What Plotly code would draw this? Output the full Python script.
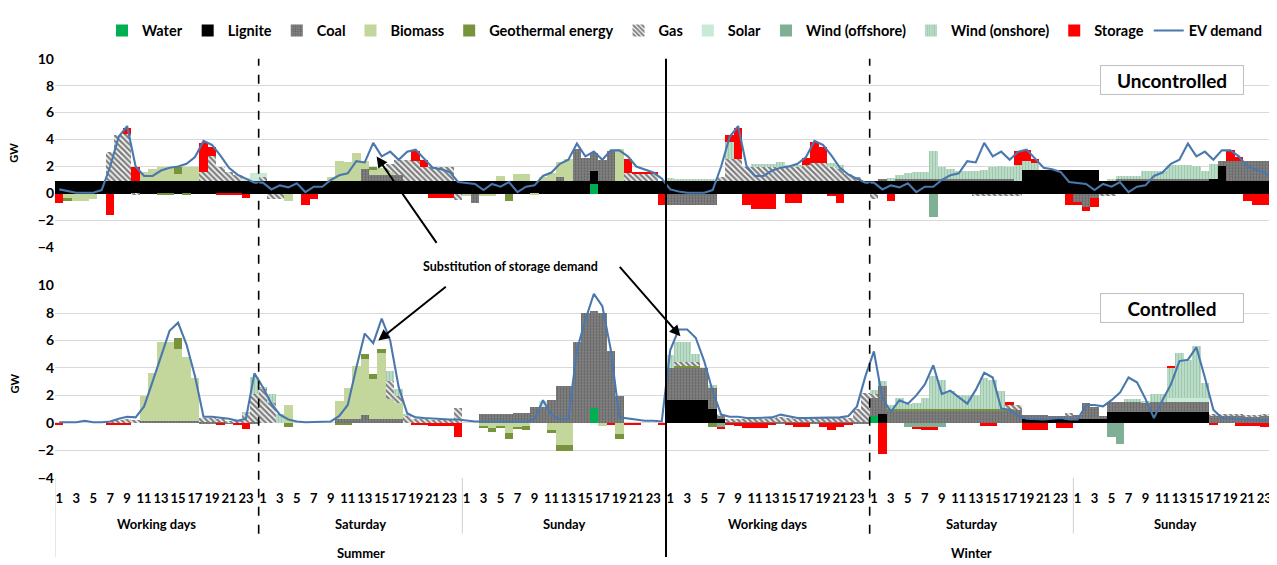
import plotly.graph_objects as go

# hourly values, six blocks of 24 h:
# summer working day, summer saturday, summer sunday, winter working day, winter saturday, winter sunday
EMPTY = [0] * 24
DAY_NAMES = ["Working days", "Saturday", "Sunday", "Working days", "Saturday", "Sunday"]
SEASONS = ["Summer", "Winter"]
HOUR_TICKS = [1, 3, 5, 7, 9, 11, 13, 15, 17, 19, 21, 23]


def week(*days):
    return [v for d in days for v in d]


# ---------------- uncontrolled charging (upper panel) ----------------
u_water = week(EMPTY, EMPTY,
               [0, 0, 0, 0, 0, 0, 0, 0, 0, 0, 0, 0, 0, 0, 0, 0.75, 0, 0, 0, 0, 0, 0, 0, 0],
               EMPTY, EMPTY, EMPTY)
u_lignite = week(
    [0.95, 0.95, 0.95, 0.95, 0.95, 0.95, 0.95, 0.95, 0.95, 0.95, 0.95, 0.95, 0.95, 0.95, 0.95, 0.95, 0.95, 0.95, 0.95, 0.95, 0.95, 0.95, 0.95, 0.95],
    [0.95, 0.95, 0.95, 0.95, 0.95, 0.95, 0.95, 0.95, 0.95, 0.95, 0.95, 0.95, 0.95, 0.95, 0.95, 0.95, 0.95, 0.95, 0.95, 0.95, 0.95, 0.95, 0.95, 0.95],
    [0.95, 0.95, 0.95, 0.95, 0.95, 0.95, 0.95, 0.95, 0.95, 0.95, 0.95, 0.95, 0.95, 0.95, 0.95, 0.95, 0.95, 0.95, 0.95, 0.95, 0.95, 0.95, 0.95, 0.95],
    [0.95, 0.95, 0.95, 0.95, 0.95, 0.95, 0.95, 0.95, 0.95, 0.95, 0.95, 0.95, 0.95, 0.95, 0.95, 0.95, 0.95, 0.95, 0.95, 0.95, 0.95, 0.95, 0.95, 0.95],
    [0.95, 0.95, 0.95, 0.95, 0.95, 0.95, 0.95, 0.95, 0.95, 0.95, 0.95, 0.95, 0.95, 0.95, 0.95, 0.95, 0.95, 0.95, 1.8, 1.8, 1.8, 1.8, 1.8, 1.8],
    [1.8, 1.8, 1.8, 0.95, 0.95, 0.95, 0.95, 0.95, 0.95, 0.95, 0.95, 0.95, 0.95, 0.95, 0.95, 0.95, 1.1, 2.05, 0.95, 0.95, 0.95, 0.95, 0.95, 0.95])
u_coal = week(
    EMPTY,
    [0, 0, 0, 0, 0, 0, 0, 0, 0, 0, 0, 0, 0.9, 0.45, 0.45, 0.45, 0.45, 0, 0, 0, 0, 0, 0, 0],
    [0, -0.65, 0, 0, 0, 0, 0, 0, 0, 0, 0, 0.3, 0, 2.4, 1.7, 1.3, 1.55, 2.25, 0, 0, 0, 0, 0, 0],
    [-0.85, -0.85, -0.85, -0.85, -0.85, -0.85, 0, 0, 0, 0, 0, 0, 0, 0, 0, 0, 0, 0, 0, 0, 0, 0, 0, 0],
    [0, 0.15, 0, 0.15, 0.15, 0.15, 0.15, 0.15, 0.15, 0.15, 0.15, 0.15, 0.15, 0.15, 0.15, 0.15, 0.15, 0, 0, 0, 0, 0, 0, 0],
    [-0.6, -1.0, -0.3, 0, 0, 0.15, 0.15, 0.15, 0.15, 0.15, 0.15, 0.15, 0.15, 0.15, 0.15, 0.15, 0, 0.35, 1.45, 1.45, 1.45, 1.45, 1.45, 1.45])
u_biomass = week(
    [0, -0.3, -0.5, -0.5, -0.4, 0, 0, 0, 0, 0, 0.7, 0.9, 1.05, 1.05, 0.5, 1.0, 1.0, 0, 0, 0, 0, 0, 0, 0],
    [0, 0, 0, -0.5, 0, 0, 0, 0, 0.3, 1.45, 1.4, 2.1, 0.6, 0.4, 0.5, 0.2, 0, 0, 0, 0, 0, 0, 0, 0],
    [-0.2, 0, -0.2, -0.2, 0.4, 0, 0.5, 0.5, -0.1, 0.3, 0.6, 1.1, 1.65, 0, 0, 0, 0, 0, 2.35, 0, 0, 0, 0, 0],
    EMPTY, EMPTY, EMPTY)
u_geo = week(
    [0, -0.2, 0, 0, 0, 0, 0, 0, 0, 0, 0, 0, -0.1, -0.1, 0.55, -0.1, 0, 0, 0, 0, 0, 0, 0, 0],
    [0, 0, 0, 0, 0, 0, 0, 0, 0, 0, 0, 0, 0, 0.2, 0, 0, 0, 0, 0, 0, 0, 0, 0, 0],
    [0, 0, 0, 0, 0, -0.5, 0, 0, 0, 0, 0, 0, 0, 0, 0, 0, 0, 0, 0, 0, 0, 0, 0, 0],
    EMPTY, EMPTY, EMPTY)
u_gas = week(
    [0, 0, 0, 0, 0, 0, 2.15, 3.4, 3.45, -0.1, 0, 0, 0, 0, 0, 0, 0, 0.65, 1.85, 1.05, 0.65, 0.45, 0, 0],
    [0.3, -0.4, -0.4, 0, 0, 0, 0, 0, 0, 0, 0, 0, 0, 0, 0, 0.6, 1.1, 1.55, 1.45, 1.05, 1.05, 1.05, 1.05, -0.45],
    [0, 0, 0, 0, 0, 0, 0, 0, 0, 0, 0, 0, 0, 0, 0, 0, 0, 0, 0, 0.6, 0.5, 0.5, 0.5, 0],
    [0, 0, 0, 0, 0, 0, 0.3, 1.65, 1.65, 1.05, 1.05, 1.05, 1.05, 1.05, 1.05, 1.05, 1.2, 1.35, 1.35, 1.05, 0.9, 0.5, 0.3, 0],
    [-0.4, 0, 0, 0, 0, 0, 0, 0, 0, 0, 0, 0, -0.15, -0.15, -0.15, -0.15, -0.15, -0.15, 0, 0, 0, 0, 0, 0],
    [0, 0, 0, -0.2, -0.2, 0, 0, 0, 0, 0, 0, 0, 0, 0, 0, 0, 0, 0, 0, 0, 0, 0, 0, 0])
u_solar = week(
    [0, 0, 0, 0, 0, 0, 0, 0, 0, 0, 0, 0, 0, 0, 0, 0, 0, 0, 0, 0, 0, 0, 0.2, 0.6],
    [0.3, 0, 0, 0, 0, 0, 0, 0, 0, 0, 0, 0, 0, 0, 0, 0, 0, 0, 0, 0, 0, 0, 0, 0],
    EMPTY, EMPTY, EMPTY, EMPTY)
u_wind_off = week(
    EMPTY, EMPTY, EMPTY, EMPTY,
    [0, 0, 0, 0, 0, 0, 0, -1.7, 0, 0, 0, 0, 0, 0, 0, 0, 0, 0, 0, 0, 0, 0, 0, 0],
    EMPTY)
u_wind_on = week(
    EMPTY, EMPTY, EMPTY,
    [0.25, 0.15, 0.1, 0.1, 0.1, 0.1, 0, 1.25, 0, 0, 0.2, 0.2, 0.2, 0.35, 0.15, 0.15, 0, 0, 0, 0.25, 0.25, 0, 0, 0],
    [0, 0, 0.2, 0.3, 0.45, 0.55, 0.55, 2.05, 0.85, 0.75, 0.6, 0.6, 0.6, 0.7, 0.9, 0.95, 0.85, 1.2, 0.6, 0.5, 0, 0, 0, 0],
    [0, 0, 0, 0, 0.15, 0.25, 0.25, 0.25, 0.6, 0.6, 0.6, 1.0, 1.0, 1.0, 0.95, 0.6, 1.1, 0, 0, 0, 0, 0, 0, 0])
u_storage = week(
    [-0.7, 0, 0, 0, 0, 0, -1.6, 0, 0.5, 1.05, 0, 0, 0, 0, 0, 0, 0, 2.15, 0.65, -0.1, -0.1, -0.1, -0.3, 0],
    [0, 0, 0, 0, 0, -0.8, -0.4, 0, 0, 0, 0, 0, 0, 0, 0, 0, 0, 0, 0.75, 0.5, -0.3, -0.3, -0.3, 0],
    [0, 0, 0, 0, 0, 0, 0, 0, 0, 0, 0, 0, 0, 0, 0, 0, 0, 0, 0, 1.05, 0.2, 0.2, 0.15, -0.8],
    [0, 0, 0, 0, 0, 0, 0, 0.5, 2.3, -0.85, -1.15, -1.15, -1.15, 0, -0.65, -0.65, 0.5, 1.55, 1.2, -0.2, -0.65, 0, 0, 0],
    [0, 0, -0.5, 0, 0, 0, 0, 0, 0, 0, 0, 0, 0, 0, 0, 0, 0, 1.05, 0.85, 0.3, 0, 0, 0, -0.8],
    [-0.2, -0.3, -0.7, 0, 0, 0, 0, 0, 0, 0, 0, 0, 0, 0, 0, 0, 0, 0, 0.85, 0.3, -0.5, -0.85, -0.85, -1.9])
ev_unc_wd = [0.3, 0.15, 0.05, 0.05, 0.05, 0.25, 2.0, 4.2, 5.0, 2.0, 1.3, 1.3, 1.7, 1.9, 2.0, 2.2, 2.7, 3.9, 3.6, 2.8, 1.9, 1.4, 1.1, 0.8]
ev_unc_sat = [0.8, 0.3, 0.6, 0.45, 0.75, 0.1, 0.5, 0.5, 1.0, 1.35, 1.5, 2.4, 2.3, 3.75, 2.75, 3.1, 2.5, 3.1, 3.25, 2.6, 1.9, 1.8, 1.6, 0.85]
ev_unc_sun = [0.75, 0.7, 0.25, 0.7, 0.5, 0.85, 0.1, 0.5, 0.6, 1.3, 1.55, 2.2, 2.5, 3.7, 2.75, 3.1, 2.5, 3.2, 3.2, 2.75, 2.0, 1.8, 1.55, 1.1]
u_ev = week(ev_unc_wd, ev_unc_sat, ev_unc_sun, ev_unc_wd, ev_unc_sat, ev_unc_sun)

# ---------------- controlled charging (lower panel) ----------------
c_water = week(
    EMPTY, EMPTY,
    [0, 0, 0, 0, 0, 0, 0, 0, 0, 0, 0, 0, 0, 0, 0, 1.1, 0, 0, 0, 0, 0, 0, 0, 0],
    EMPTY,
    [0.55, 0, 0, 0, 0, 0, 0, 0, 0, 0, 0, 0, 0, 0, 0, 0, 0, 0, 0, 0, 0, 0, 0, 0],
    EMPTY)
c_lignite = week(
    EMPTY, EMPTY, EMPTY,
    [1.7, 1.7, 1.7, 1.7, 1.7, 1.05, 0.3, 0, 0, 0, 0, 0, 0, 0, 0, 0, 0, 0, 0, 0, 0, 0, 0, 0],
    [0, 0.7, 0, 0, 0, 0, 0, 0, 0, 0, 0, 0, 0, 0, 0, 0, 0, 0, 0.35, 0.35, 0.35, 0.35, 0.35, 0.35],
    [0.35, 0.35, 0.35, 0.35, 0.8, 0.8, 0.8, 0.8, 0.8, 0.8, 0.8, 0.8, 0.8, 0.8, 0.8, 0.8, 0, 0, 0, 0, 0, 0, 0, 0])
c_coal = week(
    [0, 0, 0, 0, 0, 0, 0, 0, 0, 0, 0.2, 0.2, 0.2, 0.2, 0.2, 0.2, 0.2, 0.1, 0.1, 0.1, 0.05, 0.05, 0.05, 0.1],
    [0, 0, 0, 0, 0, 0, 0, 0, 0, 0.3, 0.3, 0.3, 0.6, 0.3, 0.3, 0.3, 0.3, 0, 0, 0, 0, 0, 0, 0],
    [0, 0, 0.7, 0.7, 0.7, 0.7, 0.75, 0.75, 1.2, 1.2, 1.7, 2.75, 2.75, 5.9, 8.0, 7.1, 8.0, 5.3, 2.0, 0, 0, 0, 0, 0],
    [2.3, 2.3, 2.3, 2.3, 2.3, 1.55, 0.2, 0.1, 0.1, 0.1, 0.1, 0.1, 0.1, 0.1, 0.1, 0.1, 0.1, 0.1, 0.1, 0.1, 0.1, 0.1, 0.1, 0.1],
    [1.3, 2.0, 0.95, 0.95, 0.95, 0.95, 0.95, 0.95, 0.95, 0.95, 0.95, 0.95, 0.95, 0.95, 0.95, 0.95, 0.95, 0.95, 0.25, 0.25, 0.25, 0.2, 0.2, 0.2],
    [0.25, 1.1, 0.85, 0.2, 0.75, 0.75, 0.75, 0.75, 0.75, 0.75, 0.75, 0.75, 0.75, 0.75, 0.75, 0.75, 0.6, 0.6, 0.6, 0.6, 0.5, 0.5, 0.5, 0.5])
c_biomass = week(
    [0, 0, 0, 0, 0, 0, 0, 0, 0, 0, 1.8, 3.5, 5.7, 5.7, 5.2, 4.6, 3.1, 0, 0, 0, 0, 0, 0, 0],
    [0, 0, 0, 1.3, 0, 0, 0, 0, 0, 1.35, 2.3, 3.9, 4.1, 2.95, 4.8, 1.5, 1.2, 0, 0, 0, 0, 0, 0, 0],
    [0, 0, -0.25, -0.35, -0.2, -0.7, -0.3, -0.2, 0, 0, -0.5, -1.6, -1.6, 0, 0, 0, -0.2, 0, -0.8, 0, 0, 0, 0, 0],
    EMPTY, EMPTY, EMPTY)
c_geo = week(
    [0, 0, 0, 0, 0, 0, 0, 0, 0, 0, 0, 0, 0, 0, 0.8, 0, 0, 0, 0, 0, 0, 0, 0, 0],
    [0, 0, 0, -0.25, 0, 0, 0, 0, 0, -0.15, -0.15, 0, 0.35, 0.35, 0.3, 0, 0, 0, 0, 0, 0, 0, 0, 0],
    [0, 0, -0.1, -0.25, -0.15, -0.45, -0.1, -0.3, 0, 0, -0.2, -0.4, -0.4, 0, 0, 0, 0, 0, -0.35, 0, 0, 0, 0, 0],
    [0, 0.2, 0.2, 0.2, 0, -0.3, 0, 0, 0, 0, 0, 0, 0, 0, 0, 0, 0, 0, 0, 0, 0, 0, 0, 0],
    [0, 0, 0.08, 0.08, 0.08, 0.08, 0.08, 0.08, 0.08, 0.08, 0.08, 0.08, 0.08, 0.08, 0.08, 0.08, 0.08, 0, 0, 0, 0, 0, 0, 0],
    EMPTY)
c_gas = week(
    [0, 0, 0, 0, 0, 0, 0.15, 0.25, 0.3, 0.25, 0, 0, 0, 0, 0, 0, 0, 0.3, 0.3, 0.25, 0.15, 0.1, 0.6, 2.0],
    [2.5, 1.5, 0, 0, 0, 0, 0, 0, 0, 0, 0, 0, 0, 0, 0, 1.3, 0.5, 0.6, 0.3, 0.3, 0.25, 0.25, 0.25, 1.1],
    EMPTY,
    [0, 0.25, 0.25, 0.25, 0, 0, 0.2, 0.2, 0.25, 0.25, 0.2, 0.25, 0.3, 0.35, 0.3, 0.25, 0.25, 0.3, 0.3, 0.3, 0.3, 0.3, 0.95, 2.1],
    [0.3, 0, 0, 0, 0, 0, 0, 0, 0, 0, 0, 0, 0, 0, 0, 0, 0.3, 0.35, 0, 0, 0, 0, 0, 0.2],
    [0, 0, 0, 0, 0, 0, 0, 0, 0, 0, 0, 0, 0, 0, 0, 0, 0.1, 0.1, 0.1, 0.1, 0.1, 0.1, 0.2, 0.2])
c_solar = week(
    EMPTY, EMPTY,
    [0, 0, 0, 0, 0, 0, 0, 0, 0, 0.4, 0, 0, 0, 0, 0, 0, 0, 0, 0, 0, 0, 0, 0, 0],
    EMPTY, EMPTY,
    [0, 0, 0, 0, 0, 0, 0, 0, 0, 0, 0, 0.3, 0.3, 0.3, 0.3, 0.3, 0, 0, 0, 0, 0, 0, 0, 0])
c_wind_off = week(
    EMPTY, EMPTY, EMPTY,
    [0, 0, 0, 0, 0, 0, -0.3, 0, 0, 0, 0, 0, 0, 0, 0, 0, 0, 0, 0, 0, 0, 0, 0, 0],
    [0, 0, 0, 0, -0.3, -0.3, -0.3, -0.3, -0.3, 0, 0, 0, 0, 0, 0, 0, 0, 0, 0, 0, 0, 0, 0, 0],
    [0, 0, 0, 0, -1.0, -1.5, 0, 0, 0, 0, 0, 0, 0, 0, 0, 0, 0, 0, 0, 0, 0, 0, 0, 0])
c_wind_on = week(
    [0, 0, 0, 0, 0, 0, 0, 0, 0, 0, 0, 0, 0, 0, 0, 0, 0, 0, 0, 0, 0, 0, 0.2, 1.3],
    [0.1, 0.6, 0.7, 0, 0, 0, 0, 0, 0, 0, 0, 0, 0, 0, 0, 0.7, 0.5, 0.1, 0, 0, 0, 0, 0, 0],
    EMPTY,
    [1.0, 1.45, 1.45, 0.6, 0, 0.2, 0, 0, 0, 0, 0, 0, 0, 0, 0, 0, 0, 0, 0, 0, 0, 0, 0, 0],
    [0.3, 0.35, 0.3, 0.85, 0.35, 0.45, 0.85, 2.45, 2.15, 1.3, 1.05, 1.05, 1.05, 2.25, 2.15, 1.3, 0, 0, 0, 0, 0, 0, 0, 0],
    [0, 0, 0, 0, 0, 0, 0.2, 0.2, 0.1, 0.6, 0.6, 2.2, 3.3, 2.75, 3.75, 1.1, 0, 0, 0, 0, 0, 0, 0, 0])
c_storage = week(
    [-0.1, 0, 0, 0, 0, 0, -0.1, -0.1, -0.1, 0, 0, 0, 0, 0, 0, 0, 0, 0, 0, -0.1, 0, -0.15, -0.4, 0],
    [0, 0, 0, 0, 0, 0, 0, 0, 0, 0, 0, 0, 0, 0, 0, 0, 0, 0, -0.15, -0.15, -0.2, -0.2, -0.2, -1.0],
    [0, 0, 0, 0, 0, 0, 0, 0, 0, 0, 0, 0, 0, 0, 0, 0, 0, -0.1, 0, -0.15, -0.1, 0, 0, -0.1],
    [0, 0, 0, 0, 0, 0, -0.05, -0.1, -0.2, -0.35, -0.35, -0.35, -0.1, 0, -0.1, -0.25, -0.25, 0, -0.3, -0.45, -0.3, -0.1, 0, 0],
    [0, -2.25, 0, 0, 0, -0.1, -0.15, -0.15, 0, 0, 0, 0, 0, -0.2, -0.2, 0, 0.2, 0, -0.45, -0.45, -0.45, 0, -0.35, -0.35],
    [0, 0, 0, 0, 0, 0, 0, 0, 0, 0, 0, 0.1, 0, 0, 0, 0, -0.1, 0, 0, -0.2, -0.2, -0.2, -0.3, -0.5])
c_ev = week(
    [0.05, 0.05, 0.05, 0.15, 0.05, 0.05, 0.1, 0.3, 0.45, 0.4, 1.2, 3.0, 4.8, 6.7, 7.3, 5.7, 3.4, 0.45, 0.45, 0.4, 0.3, 0.15, 0.3, 3.6],
    [2.6, 1.4, 0.6, 0.25, 0.1, 0.05, 0.05, 0.05, 0.1, 0.5, 1.3, 4.0, 6.5, 5.8, 7.6, 6.0, 2.6, 0.7, 0.4, 0.35, 0.3, 0.25, 0.25, 0.25],
    [0.15, 0.1, 0.1, 0.1, 0.1, 0.1, 0.1, 0.1, 0.25, 1.65, 0.6, 0.25, 0.3, 5.3, 7.5, 9.4, 8.5, 5.3, 0.4, 0.3, 0.2, 0.15, 0.15, 0.1],
    [5.3, 6.8, 6.8, 6.2, 4.5, 2.3, 0.6, 0.45, 0.45, 0.35, 0.35, 0.35, 0.4, 0.6, 0.45, 0.35, 0.35, 0.35, 0.4, 0.4, 0.4, 0.5, 1.2, 3.4],
    [5.2, 1.8, 0.8, 1.65, 1.4, 2.0, 2.8, 4.2, 2.1, 2.35, 1.9, 1.4, 2.4, 3.65, 3.3, 1.05, 0.95, 0.5, 0.3, 0.25, 0.25, 0.3, 0.35, 0.25],
    [0.25, 1.3, 1.3, 1.2, 1.65, 2.2, 3.3, 2.95, 1.75, 0.35, 1.65, 2.8, 4.5, 4.6, 5.5, 3.3, 0.95, 0.35, 0.3, 0.25, 0.25, 0.2, 0.2, 0.15])

x = list(range(144))

series = [
    ("Water", u_water, c_water, dict(color="#00B050")),
    ("Lignite", u_lignite, c_lignite, dict(color="#000000")),
    ("Coal", u_coal, c_coal, dict(color="#7A7A7A", pattern=dict(shape=".", fgcolor="#454545", bgcolor="#858585", size=3, solidity=0.45))),
    ("Biomass", u_biomass, c_biomass, dict(color="#C3D69B")),
    ("Geothermal energy", u_geo, c_geo, dict(color="#77933C")),
    ("Gas", u_gas, c_gas, dict(color="#FFFFFF", pattern=dict(shape="\\", fgcolor="#000000", bgcolor="#FFFFFF", size=4, solidity=0.62))),
    ("Solar", u_solar, c_solar, dict(color="#C9EAD6")),
    ("Wind (offshore)", u_wind_off, c_wind_off, dict(color="#7FAF94")),
    ("Wind (onshore)", u_wind_on, c_wind_on, dict(color="#A9D3B9", pattern=dict(shape="|", fgcolor="#78B08F", bgcolor="#C4E2CF", size=3, solidity=0.5))),
    ("Storage", u_storage, c_storage, dict(color="#FF0000")),
]

fig = go.Figure()
for panel, (xa, ya) in enumerate([("x", "y"), ("x2", "y2")]):
    for name, up, low, mk in series:
        fig.add_trace(go.Bar(
            x=x, y=up if panel == 0 else low, name=name, width=1,
            marker=dict(line=dict(width=0), **mk),
            xaxis=xa, yaxis=ya, legendgroup=name, showlegend=(panel == 0)))
    fig.add_trace(go.Scatter(
        x=x, y=u_ev if panel == 0 else c_ev, name="EV demand", mode="lines",
        line=dict(color="#4A78AD", width=2.1),
        xaxis=xa, yaxis=ya, legendgroup="EV", showlegend=(panel == 0)))

# the page body has an 8 px margin, so the figure is drawn 8 px smaller and
# screen pixel positions are converted to paper fractions
OFF = 8
W, H = 1277 - OFF, 565 - OFF


def px_x(p):
    return (p - OFF) / W


def px_y(p):
    return 1 - (p - OFF) / H


tickvals = [d * 24 + h - 1 for d in range(6) for h in HOUR_TICKS]
ticktext = [str(h) for d in range(6) for h in HOUR_TICKS]

xdom = [px_x(55), 1.0]
top_dom = [px_y(245.6), px_y(51)]
bot_dom = [px_y(483.3), px_y(285)]
yax = dict(range=[-4, 10], dtick=2, gridcolor="#D9D9D9", gridwidth=1, zeroline=False,
           showline=False, tickfont=dict(size=14), ticks="", fixedrange=True)

fig.update_layout(
    width=W, height=H,
    margin=dict(l=0, r=0, t=0, b=0),
    barmode="relative", bargap=0,
    plot_bgcolor="white", paper_bgcolor="white",
    font=dict(family="Lato, 'Open Sans', sans-serif", size=12, color="#000000", weight="bold"),
    legend=dict(orientation="h", x=px_x(685), xanchor="center", y=px_y(22), yanchor="middle",
                font=dict(size=14.5, weight="bold"), itemwidth=30, tracegroupgap=0, traceorder="normal"),
    xaxis=dict(domain=xdom, range=[-0.5, 143.5], showticklabels=False, showgrid=False,
               zeroline=False, anchor="y"),
    xaxis2=dict(domain=xdom, range=[-0.5, 143.5], tickvals=tickvals, ticktext=ticktext,
                tickfont=dict(size=13), ticks="outside", ticklen=9, tickcolor="rgba(0,0,0,0)",
                showgrid=False, zeroline=False, anchor="y2", tickangle=0),
    yaxis=dict(domain=top_dom, anchor="x", **yax),
    yaxis2=dict(domain=bot_dom, anchor="x2", **yax),
)

# separators between day groups
shapes = []
for xb in (23.5, 95.5):
    shapes.append(dict(type="line", xref="x", yref="paper", x0=xb, x1=xb, y0=px_y(541), y1=top_dom[1],
                       line=dict(color="#000000", width=1.6, dash="dash")))
shapes.append(dict(type="line", xref="x", yref="paper", x0=71.5, x1=71.5, y0=0, y1=top_dom[1],
                   line=dict(color="#000000", width=2)))
for xb in (47.5, 119.5, 143.4):
    shapes.append(dict(type="line", xref="x", yref="paper", x0=xb, x1=xb, y0=px_y(541), y1=bot_dom[0],
                       line=dict(color="#D0D0D0", width=1)))
shapes.append(dict(type="line", xref="x", yref="paper", x0=-0.5, x1=-0.5, y0=0, y1=bot_dom[0],
                   line=dict(color="#D0D0D0", width=1)))
fig.update_layout(shapes=shapes)

center = dict(xanchor="center", yanchor="middle")
ann = []
for d, label in enumerate(DAY_NAMES):
    ann.append(dict(text=label, xref="x2", yref="paper", x=d * 24 + 11.5, y=px_y(531),
                    showarrow=False, font=dict(size=13), **center))
for s, label in enumerate(SEASONS):
    ann.append(dict(text=label, xref="x2", yref="paper", x=s * 72 + 35.5, y=px_y(561),
                    showarrow=False, font=dict(size=13), **center))
for ymid in (148, 386):
    ann.append(dict(text="GW", xref="paper", yref="paper", x=px_x(14), y=px_y(ymid),
                    textangle=-90, showarrow=False, font=dict(size=11), **center))
ann.append(dict(text="Uncontrolled", xref="paper", yref="paper", x=px_x(1172), y=px_y(73),
                showarrow=False, font=dict(size=19), bgcolor="white", bordercolor="#BFBFBF",
                borderwidth=1, width=140, height=26, **center))
ann.append(dict(text="Controlled", xref="paper", yref="paper", x=px_x(1172), y=px_y(308),
                showarrow=False, font=dict(size=19), bgcolor="white", bordercolor="#BFBFBF",
                borderwidth=1, width=140, height=26, **center))
ann.append(dict(text="Substitution of storage demand", xref="paper", yref="paper",
                x=px_x(510), y=px_y(265), showarrow=False, font=dict(size=12.5), **center))
# arrows pointing at the shifted demand
for xr, yr, hx, hy, ax, ay in [("x", "y", 37.4, 2.75, 61, 88),
                               ("x2", "y2", 37.6, 6.0, 69, -55),
                               ("x2", "y2", 73.2, 6.3, -62, -71)]:
    ann.append(dict(text="", xref=xr, yref=yr, x=hx, y=hy, ax=ax, ay=ay, showarrow=True,
                    arrowhead=2, arrowsize=1.1, arrowwidth=2, arrowcolor="#000000", standoff=0))
fig.update_layout(annotations=ann)

fig.write_html("out.html")
